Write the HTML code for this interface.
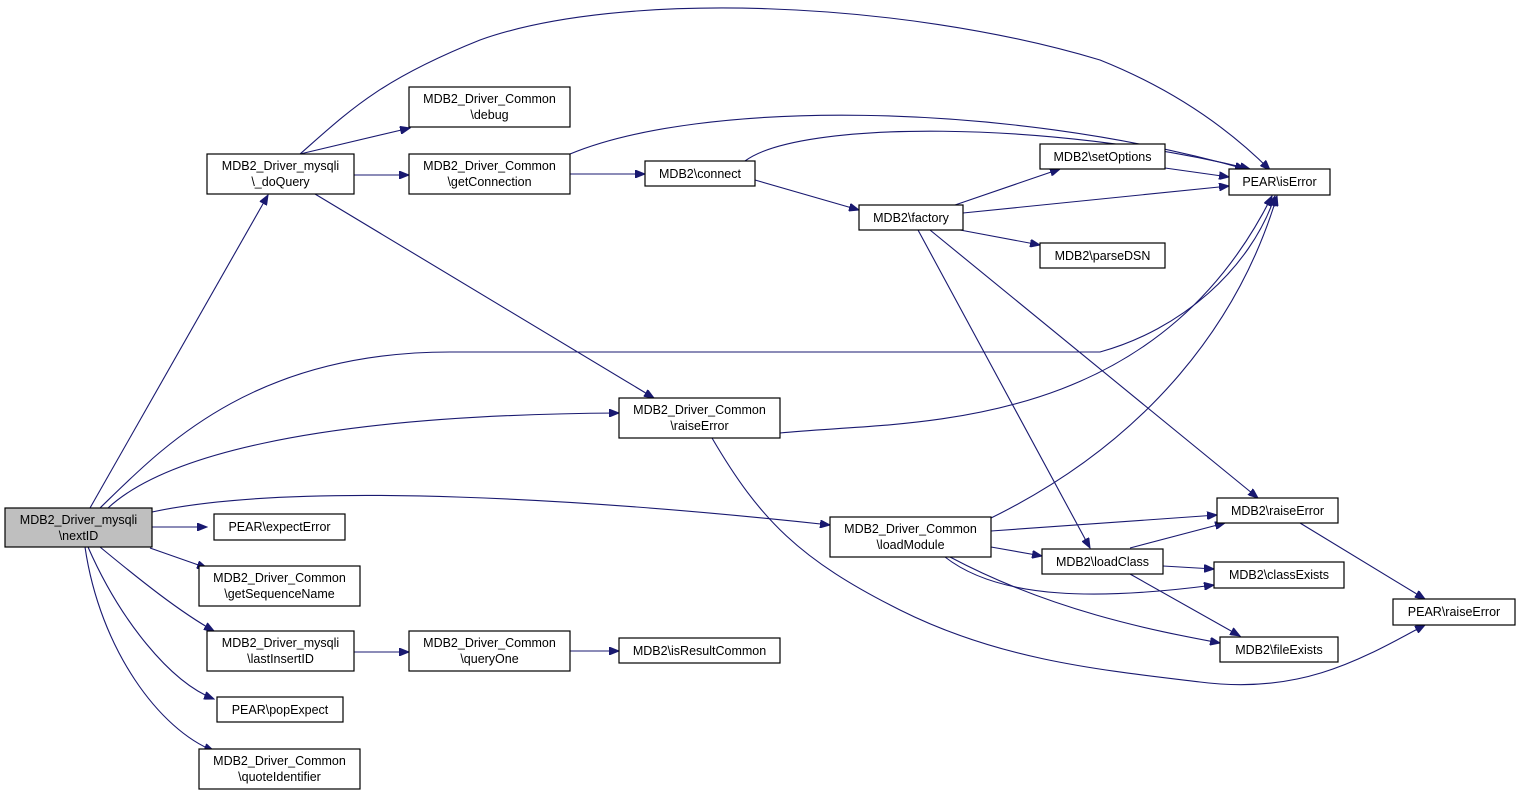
<!DOCTYPE html>
<html><head><meta charset="utf-8"><style>
html,body{margin:0;padding:0;background:#fff;}
svg{display:block;}
text{font-family:"Liberation Sans",Helvetica,sans-serif;font-size:12.5px;fill:#000;}
.e{fill:none;stroke:#191970;stroke-width:1.1;marker-end:url(#a);}
.n{fill:#fff;stroke:#000;stroke-width:1.2;}
</style></head><body>
<svg width="1517" height="795" viewBox="0 0 1517 795" xmlns="http://www.w3.org/2000/svg">
<defs><marker id="a" markerUnits="userSpaceOnUse" markerWidth="11" markerHeight="8" refX="10" refY="4" orient="auto"><path d="M0,0 L10,4 L0,8 z" fill="#191970" stroke="#191970"/></marker></defs>
<g>
<path class="e" d="M90,508 L268,195"/>
<path class="e" d="M100,508 C160,450 250,352 450,352 L1100,352 C1180,330 1250,270 1275,196"/>
<path class="e" d="M108,508 C160,460 300,415 619,413"/>
<path class="e" d="M152,512 C300,480 600,500 830,525"/>
<path class="e" d="M152,527 L207,527"/>
<path class="e" d="M150,548 L207,568"/>
<path class="e" d="M100,547 C140,580 180,612 214,631"/>
<path class="e" d="M88,547 C120,620 170,682 214,699"/>
<path class="e" d="M85,547 C100,650 160,730 214,751"/>
<path class="e" d="M300,154 L410,128"/>
<path class="e" d="M354,175 L409,175"/>
<path class="e" d="M300,154 C350,110 380,80 480,40 C620,-10 900,0 1100,60 C1200,100 1255,155 1270,170"/>
<path class="e" d="M315,194 L654,398"/>
<path class="e" d="M570,174 L645,174"/>
<path class="e" d="M570,154 C700,100 1000,100 1245,169"/>
<path class="e" d="M745,161 C800,120 1050,120 1250,169"/>
<path class="e" d="M755,180 L859,210"/>
<path class="e" d="M955,205 L1060,169"/>
<path class="e" d="M963,213 L1229,186"/>
<path class="e" d="M960,230 L1040,245"/>
<path class="e" d="M918,230 L1090,548"/>
<path class="e" d="M930,230 L1258,498"/>
<path class="e" d="M1165,168 L1229,177"/>
<path class="e" d="M780,433 C900,420 1150,440 1272,196"/>
<path class="e" d="M712,438 C760,520 800,560 900,610 C1000,660 1100,670 1200,682 C1300,695 1360,660 1425,625"/>
<path class="e" d="M991,518 C1150,440 1240,320 1277,196"/>
<path class="e" d="M991,531 L1217,515"/>
<path class="e" d="M991,547 L1042,556"/>
<path class="e" d="M945,557 C1000,600 1100,600 1214,585"/>
<path class="e" d="M950,557 C1050,610 1150,630 1220,643"/>
<path class="e" d="M1130,548 L1225,523"/>
<path class="e" d="M1163,566 L1214,569"/>
<path class="e" d="M1130,574 L1240,636"/>
<path class="e" d="M1300,523 L1425,599"/>
<path class="e" d="M354,652 L409,652"/>
<path class="e" d="M570,651 L619,651"/>
</g>
<g>
<rect x="5" y="508" width="147" height="39" fill="#bfbfbf" stroke="#000" stroke-width="1.2"/>
<text x="78.5" y="524" text-anchor="middle">MDB2_Driver_mysqli</text><text x="78.5" y="540" text-anchor="middle">\nextID</text>

<rect class="n" x="207" y="154" width="147" height="40"/>
<text x="280.5" y="170" text-anchor="middle">MDB2_Driver_mysqli</text><text x="280.5" y="186" text-anchor="middle">\_doQuery</text>

<rect class="n" x="409" y="87" width="161" height="40"/>
<text x="489.5" y="103" text-anchor="middle">MDB2_Driver_Common</text><text x="489.5" y="119" text-anchor="middle">\debug</text>

<rect class="n" x="409" y="154" width="161" height="40"/>
<text x="489.5" y="170" text-anchor="middle">MDB2_Driver_Common</text><text x="489.5" y="186" text-anchor="middle">\getConnection</text>

<rect class="n" x="645" y="161" width="110" height="25"/>
<text x="700" y="178" text-anchor="middle">MDB2\connect</text>

<rect class="n" x="1040" y="144" width="125" height="25"/>
<text x="1102.5" y="161" text-anchor="middle">MDB2\setOptions</text>

<rect class="n" x="1229" y="169" width="101" height="26"/>
<text x="1279.5" y="186" text-anchor="middle">PEAR\isError</text>

<rect class="n" x="859" y="205" width="104" height="25"/>
<text x="911" y="222" text-anchor="middle">MDB2\factory</text>

<rect class="n" x="1040" y="243" width="125" height="25"/>
<text x="1102.5" y="260" text-anchor="middle">MDB2\parseDSN</text>

<rect class="n" x="619" y="398" width="161" height="40"/>
<text x="699.5" y="414" text-anchor="middle">MDB2_Driver_Common</text><text x="699.5" y="430" text-anchor="middle">\raiseError</text>

<rect class="n" x="214" y="514" width="131" height="26"/>
<text x="279.5" y="531" text-anchor="middle">PEAR\expectError</text>

<rect class="n" x="199" y="566" width="161" height="40"/>
<text x="279.5" y="582" text-anchor="middle">MDB2_Driver_Common</text><text x="279.5" y="598" text-anchor="middle">\getSequenceName</text>

<rect class="n" x="207" y="631" width="147" height="40"/>
<text x="280.5" y="647" text-anchor="middle">MDB2_Driver_mysqli</text><text x="280.5" y="663" text-anchor="middle">\lastInsertID</text>

<rect class="n" x="409" y="631" width="161" height="40"/>
<text x="489.5" y="647" text-anchor="middle">MDB2_Driver_Common</text><text x="489.5" y="663" text-anchor="middle">\queryOne</text>

<rect class="n" x="619" y="638" width="161" height="25"/>
<text x="699.5" y="655" text-anchor="middle">MDB2\isResultCommon</text>

<rect class="n" x="217" y="697" width="126" height="25"/>
<text x="280" y="714" text-anchor="middle">PEAR\popExpect</text>

<rect class="n" x="199" y="749" width="161" height="40"/>
<text x="279.5" y="765" text-anchor="middle">MDB2_Driver_Common</text><text x="279.5" y="781" text-anchor="middle">\quoteIdentifier</text>

<rect class="n" x="830" y="517" width="161" height="40"/>
<text x="910.5" y="533" text-anchor="middle">MDB2_Driver_Common</text><text x="910.5" y="549" text-anchor="middle">\loadModule</text>

<rect class="n" x="1217" y="498" width="121" height="25"/>
<text x="1277.5" y="515" text-anchor="middle">MDB2\raiseError</text>

<rect class="n" x="1042" y="549" width="121" height="25"/>
<text x="1102.5" y="566" text-anchor="middle">MDB2\loadClass</text>

<rect class="n" x="1214" y="562" width="130" height="26"/>
<text x="1279" y="579" text-anchor="middle">MDB2\classExists</text>

<rect class="n" x="1220" y="637" width="118" height="25"/>
<text x="1279" y="654" text-anchor="middle">MDB2\fileExists</text>

<rect class="n" x="1393" y="599" width="122" height="26"/>
<text x="1454" y="616" text-anchor="middle">PEAR\raiseError</text>
</g>
</svg>
</body></html>
